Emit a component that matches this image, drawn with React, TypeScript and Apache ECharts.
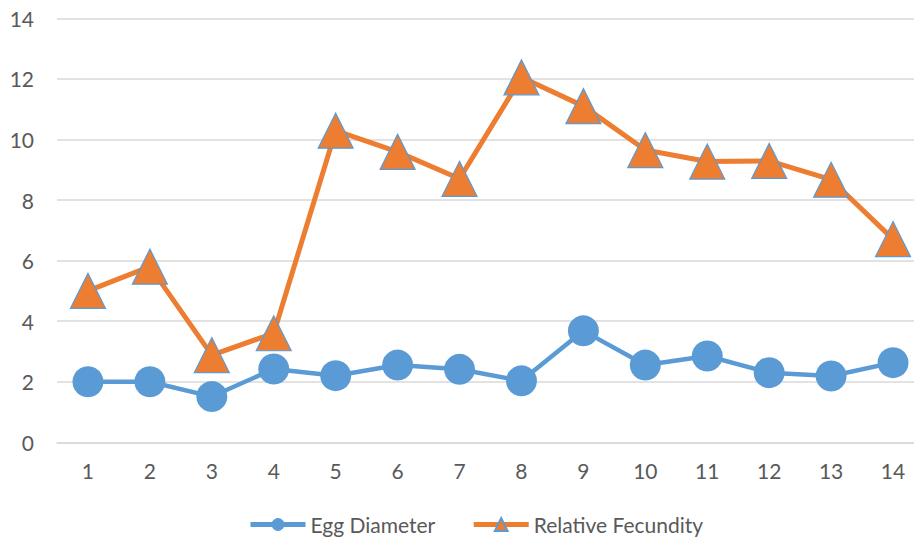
import React, { useEffect, useRef } from "react";
import * as echarts from "echarts";

const categories = ["1", "2", "3", "4", "5", "6", "7", "8", "9", "10", "11", "12", "13", "14"];
const eggDiameter = [2.0, 2.0, 1.51, 2.42, 2.2, 2.55, 2.41, 2.03, 3.68, 2.55, 2.85, 2.3, 2.19, 2.63];
const relativeFecundity = [5.0, 5.8, 2.88, 3.6, 10.29, 9.59, 8.7, 12.05, 11.1, 9.65, 9.27, 9.29, 8.67, 6.71];
const yTicks = { min: 0, max: 14, interval: 2 };

const BLUE = "#5B9BD5";
const ORANGE = "#ED7D31";
const TEXT = "#595959";
const FONT = "Lato, sans-serif";

export default function App() {
  const ref = useRef<HTMLDivElement>(null);
  useEffect(() => {
    if (!ref.current) return;
    const chart = echarts.init(ref.current, null, { renderer: "svg" });
    chart.setOption({
      animation: false,
      backgroundColor: "#ffffff",
      grid: { left: 57, top: 18.3, right: 0, bottom: 97.7, containLabel: false },
      xAxis: {
        type: "category",
        data: categories,
        boundaryGap: true,
        axisLine: { show: true, lineStyle: { color: "#D9D9D9", width: 1.5 } },
        axisTick: { show: false },
        axisLabel: { color: TEXT, fontSize: 21, fontFamily: FONT, margin: 18 },
      },
      yAxis: {
        type: "value",
        min: yTicks.min,
        max: yTicks.max,
        interval: yTicks.interval,
        axisLine: { show: false },
        axisTick: { show: false },
        splitLine: { lineStyle: { color: "#D9D9D9", width: 1.5 } },
        axisLabel: { color: TEXT, fontSize: 21, fontFamily: FONT, margin: 23 },
      },
      legend: {
        top: 509,
        left: 243,
        itemWidth: 55,
        itemHeight: 16,
        itemGap: 36,
        lineStyle: { width: 5 },
        textStyle: { color: TEXT, fontSize: 21, fontFamily: FONT },
        data: ["Egg Diameter", "Relative Fecundity"],
      },
      series: [
        {
          name: "Egg Diameter",
          type: "line",
          data: eggDiameter,
          symbol: "circle",
          symbolSize: 31,
          lineStyle: { color: BLUE, width: 4.5 },
          itemStyle: { color: BLUE, borderColor: BLUE, borderWidth: 0 },
        },
        {
          name: "Relative Fecundity",
          type: "line",
          data: relativeFecundity,
          symbol: "triangle",
          symbolSize: [35, 35],
          lineStyle: { color: ORANGE, width: 5 },
          itemStyle: { color: ORANGE, borderColor: BLUE, borderWidth: 1.2 },
        },
      ],
    });
    return () => chart.dispose();
  }, []);
  return (
    <div style={{ position: "fixed", left: 0, top: 0, width: 914, height: 540, overflow: "hidden" }}>
      <div ref={ref} style={{ width: 924, height: 540 }} />
    </div>
  );
}
